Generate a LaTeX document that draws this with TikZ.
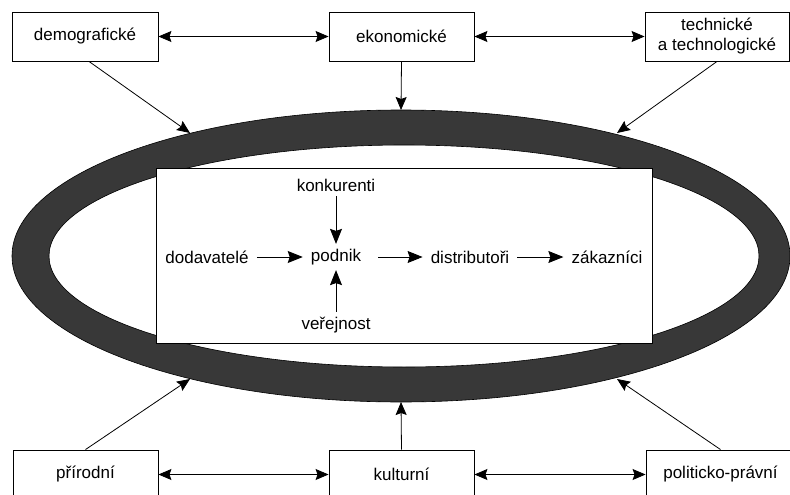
\documentclass[tikz,border=0pt]{standalone}
\usepackage{fontspec}
\setmainfont{Liberation Sans}
\usetikzlibrary{arrows.meta}
\tikzset{
  factor/.style={draw, line width=0.9pt, fill=white, minimum height=49pt,
                 align=center, inner sep=2pt, font=\fontsize{17}{20}\selectfont},
  actor/.style={inner xsep=8pt, inner ysep=5pt, font=\fontsize{17}{20}\selectfont},
  link/.style={line width=0.8pt, -{Stealth[length=13pt,width=11pt,inset=2pt]}},
  flow/.style={line width=0.9pt, -{Stealth[length=15pt,width=12pt,inset=2pt]}},
  twoway/.style={line width=0.8pt,
                 {Stealth[length=13pt,width=11pt,inset=2pt]}-{Stealth[length=13pt,width=11pt,inset=2pt]}},
  ring/.style={fill=black!78, draw=black, line width=0.6pt, even odd rule}
}

\begin{document}
\begin{tikzpicture}[x=1pt,y=-1pt]
\path[use as bounding box, clip] (0,0) rectangle (790,495);
\fill[white] (0,0) rectangle (790,495);
\path[ring] (401,256) ellipse [x radius=389, y radius=146]
            (404,256) ellipse [x radius=355, y radius=111];
\node[draw, line width=0.9pt, fill=white, minimum width=496pt, minimum height=175pt]
    (okoli) at (404,255.5) {};

\node[factor, minimum width=146pt] (demo) at (85,36.5) {demografické};
\node[factor, minimum width=145pt] (eko)  at (401.5,36.5) {ekonomické};
\node[factor, minimum width=144pt] (tech) at (717,36.5) {technické\\a technologické};
\node[factor, minimum width=145pt] (prir) at (85.5,474.5) {přírodní};
\node[factor, minimum width=145pt] (kult) at (401.5,474.5) {kulturní};
\node[factor, minimum width=149pt] (pol)  at (720.5,474.5) {politicko-právní};

\coordinate (rdemo) at (190,133);
\coordinate (reko)  at (401,110);
\coordinate (rtech) at (617,133);
\coordinate (rprir) at (190,379);
\coordinate (rkult) at (401,402);
\coordinate (rpol)  at (617,379);

\draw[twoway] (demo) -- (eko);
\draw[twoway] (eko) -- (tech);
\draw[twoway] (prir) -- (kult);
\draw[twoway] (kult) -- (pol);
\draw[link] ([xshift=4pt]demo.south) -- (rdemo);
\draw[link] (eko.south) -- (reko);
\draw[link] (tech.south) -- (rtech);
\draw[link] (prir.north) -- (rprir);
\draw[link] (kult.north) -- (rkult);
\draw[link] (pol.north) -- (rpol);

\node[actor] (podnik) at (336,257) {podnik};
\node[actor] (konk)   at (336,185) {konkurenti};
\node[actor] (verej)  at (336,325) {veřejnost};
\node[actor] (dod)    at (207,257) {dodavatelé};
\node[actor] (dist)   at (470,257) {distributoři};
\node[actor] (zak)    at (607,257) {zákazníci};

\draw[flow] (dod) -- (podnik);
\draw[flow, shorten <=9pt] (podnik) -- (dist);
\draw[flow] (dist) -- (zak);
\draw[flow] (konk) -- (podnik);
\draw[flow] (verej) -- (podnik);
\end{tikzpicture}
\end{document}
